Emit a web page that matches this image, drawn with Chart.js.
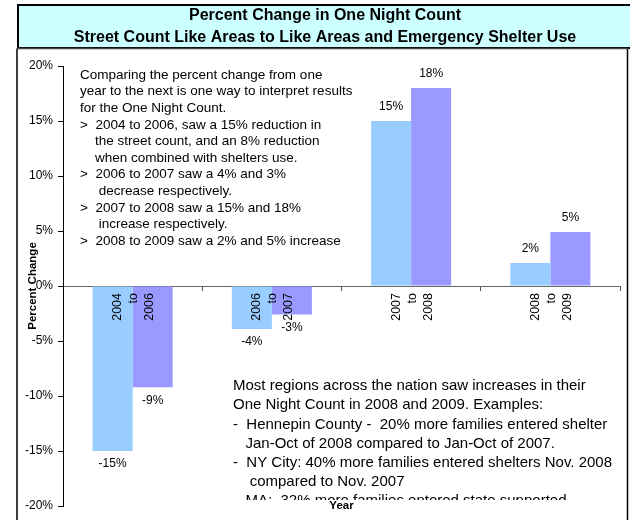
<!DOCTYPE html>
<html>
<head>
<meta charset="utf-8">
<script src="https://cdn.jsdelivr.net/npm/chart.js@4.4.0/dist/chart.umd.min.js"></script>
<style>
  body { margin: 0; background: #fff; }
  #barrasChart { display: block; }
</style>
</head>
<body>
<canvas id="barrasChart" width="630" height="520"></canvas>
<script>
// Datos
const categorias = [['2004', 'to', '2006'], ['2006', 'to', '2007'], ['2007', 'to', '2008'], ['2008', 'to', '2009']];
const conteoCalle = [-15, -3.9, 15, 2.1];
const conteoConRefugio = [-9.2, -2.6, 18, 4.9];
const ticksY = [-20, -15, -10, -5, 0, 5, 10, 15, 20];

const FUENTE = "'Liberation Sans', Arial, sans-serif";

const notaArriba = [
    'Comparing the percent change from one',
    'year to the next is one way to interpret results',
    'for the One Night Count.',
    '>  2004 to 2006, saw a 15% reduction in',
    '    the street count, and an 8% reduction',
    '    when combined with shelters use.',
    '>  2006 to 2007 saw a 4% and 3%',
    '     decrease respectively.',
    '>  2007 to 2008 saw a 15% and 18%',
    '     increase respectively.',
    '>  2008 to 2009 saw a 2% and 5% increase'
];

const notaAbajo = [
    'Most regions across the nation saw increases in their',
    'One Night Count in 2008 and 2009. Examples:',
    '-  Hennepin County -  20% more families entered shelter',
    '   Jan-Oct of 2008 compared to Jan-Oct of 2007.',
    '-  NY City: 40% more families entered shelters Nov. 2008',
    '    compared to Nov. 2007',
    '   MA:  32% more families entered state supported'
];

// Marco, titulo, etiquetas y notas
const decoracion = {
    id: 'decoracion',
    beforeDraw(chart) {
        const ctx = chart.ctx;
        ctx.save();
        ctx.fillStyle = '#fff';
        ctx.fillRect(0, 0, chart.width, chart.height);

        // caja del titulo
        ctx.fillStyle = '#ccffff';
        ctx.fillRect(18, 5, 640, 43);
        ctx.strokeStyle = '#000';
        ctx.lineWidth = 2;
        ctx.strokeRect(18, 5, 640, 43);

        // marco de la grafica
        ctx.fillStyle = '#fff';
        ctx.fillRect(17, 48, 611, 480);
        ctx.lineWidth = 1.5;
        ctx.strokeStyle = '#000';
        ctx.beginPath();
        ctx.moveTo(17, 530); ctx.lineTo(17, 48.5);
        ctx.moveTo(627.5, 48.5); ctx.lineTo(627.5, 530);
        ctx.stroke();
        ctx.strokeStyle = '#444';
        ctx.beginPath();
        ctx.moveTo(17, 48.5); ctx.lineTo(628, 48.5);
        ctx.stroke();

        ctx.fillStyle = '#000';
        ctx.font = 'bold 16px ' + FUENTE;
        ctx.textAlign = 'center';
        ctx.textBaseline = 'middle';
        ctx.fillText('Percent Change in One Night Count', 325, 16);
        ctx.fillText('Street Count Like Areas to Like Areas and Emergency Shelter Use', 325, 38);
        ctx.restore();
    },
    afterDatasetsDraw(chart) {
        const ctx = chart.ctx;
        const x = chart.scales.x;
        const y = chart.scales.y;
        const area = chart.chartArea;
        ctx.save();
        ctx.fillStyle = '#000';

        // valores sobre / bajo las barras
        ctx.font = '12px ' + FUENTE;
        ctx.textAlign = 'center';
        ctx.textBaseline = 'middle';
        chart.data.datasets.forEach((ds, d) => {
            chart.getDatasetMeta(d).data.forEach((bar, i) => {
                const v = ds.data[i];
                const texto = Math.round(v) + '%';
                ctx.fillText(texto, bar.x, v >= 0 ? bar.y - 14 : bar.y + 13);
            });
        });

        // etiquetas de categoria verticales junto al eje cero
        const y0 = y.getPixelForValue(0);
        ctx.font = '12.5px ' + FUENTE;
        ctx.textAlign = 'right';
        categorias.forEach((lineas, i) => {
            const cx = x.getPixelForValue(i);
            lineas.forEach((t, j) => {
                ctx.save();
                ctx.translate(cx + 1 + (j - 1) * 16, y0 + 7);
                ctx.rotate(-Math.PI / 2);
                ctx.fillText(t, 0, 0);
                ctx.restore();
            });
        });

        // nota superior
        ctx.font = '13.5px ' + FUENTE;
        ctx.textAlign = 'left';
        notaArriba.forEach((t, k) => ctx.fillText(t, 80, 75 + k * 16.6));

        // nota inferior (cortada por abajo como en el original)
        ctx.save();
        ctx.beginPath();
        ctx.rect(area.left, area.top, area.right - area.left, 500 - area.top);
        ctx.clip();
        ctx.font = '15px ' + FUENTE;
        notaAbajo.forEach((t, k) => ctx.fillText(t, 233, 386 + k * 19.2));
        ctx.restore();

        // titulo del eje x
        ctx.font = 'bold 11.5px ' + FUENTE;
        ctx.textAlign = 'center';
        ctx.fillText('Year', (area.left + area.right) / 2, area.bottom);
        ctx.restore();
    }
};

const data = {
    labels: categorias.map(c => c.join(' ')),
    datasets: [{
        label: 'Street Count',
        data: conteoCalle,
        backgroundColor: '#99ccff',
        borderWidth: 0
    }, {
        label: 'Street Count and Shelter Use',
        data: conteoConRefugio,
        backgroundColor: '#9999ff',
        borderWidth: 0
    }]
};

const config = {
    type: 'bar',
    data: data,
    options: {
        responsive: false,
        animation: false,
        categoryPercentage: 0.575,
        barPercentage: 1,
        layout: { padding: { left: 0, top: 66, right: 10, bottom: 14 } },
        plugins: {
            legend: { display: false },
            tooltip: { enabled: false }
        },
        scales: {
            x: {
                position: { y: 0 },
                ticks: { display: false },
                grid: { drawOnChartArea: false, drawTicks: true, tickLength: 4, color: '#555' },
                border: { display: true, color: '#666', width: 1 }
            },
            y: {
                min: ticksY[0],
                max: ticksY[ticksY.length - 1],
                afterBuildTicks: (s) => { s.ticks = ticksY.map(v => ({ value: v })); },
                afterFit: (s) => { s.width = 63; },
                ticks: {
                    color: '#000',
                    padding: 5,
                    font: { family: FUENTE, size: 12 },
                    callback: (v) => v + '%'
                },
                grid: { drawOnChartArea: false, drawTicks: true, tickLength: 5, color: '#000' },
                border: { display: true, color: '#000', width: 1 },
                title: {
                    display: true,
                    text: 'Percent Change',
                    color: '#000',
                    font: { family: FUENTE, size: 11.5, weight: 'bold' },
                    padding: { top: 26, bottom: 0 }
                }
            }
        }
    },
    plugins: [decoracion]
};

const ctx = document.getElementById('barrasChart').getContext('2d');
window.barrasChartInstance = new Chart(ctx, config);
</script>
</body>
</html>
